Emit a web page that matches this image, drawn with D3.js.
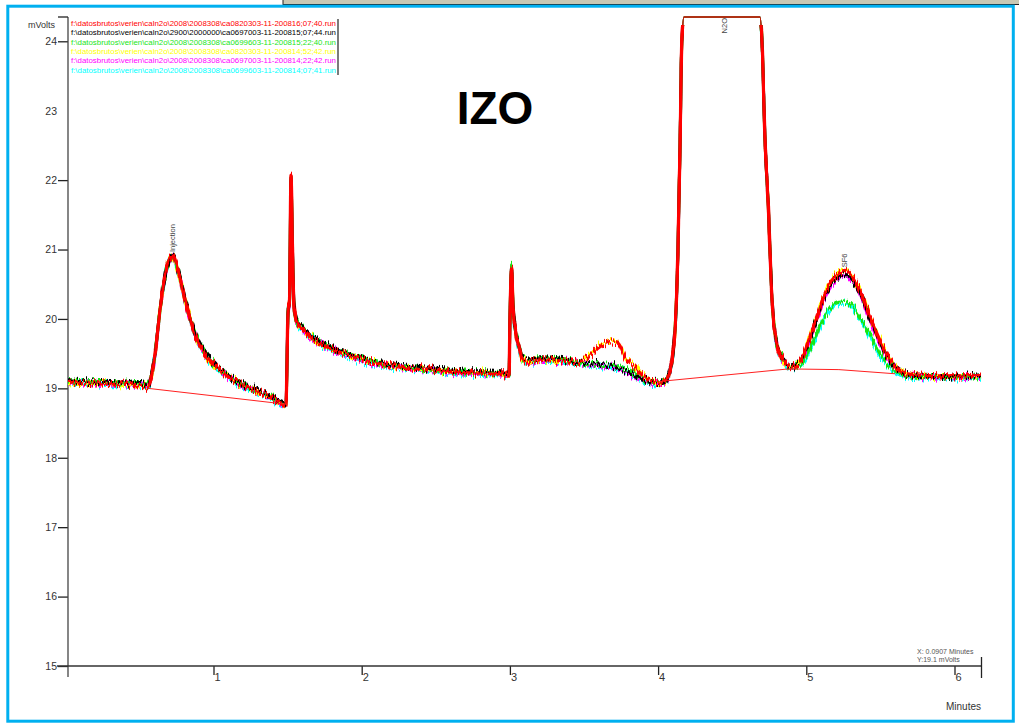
<!DOCTYPE html>
<html>
<head>
<meta charset="utf-8">
<script src="https://cdn.jsdelivr.net/npm/d3@7"></script>
<style>
  body { margin: 0; background: #fff; }
  text { font-family: "Liberation Sans", Arial, sans-serif; }
</style>
</head>
<body>
<svg id="chart" width="1019" height="723"></svg>
<script>
// Retention time grid (minutes) shared by all six runs
const minutes = [
  0.018, 0.100, 0.234, 0.369, 0.504, 0.558, 0.572, 0.605, 0.639, 0.673,
  0.707, 0.720, 0.760, 0.808, 0.875, 0.976, 1.111, 1.246, 1.381, 1.489,
  1.503, 1.513, 1.523, 1.533, 1.543, 1.563, 1.597, 1.651, 1.719, 1.820,
  1.955, 2.124, 2.393, 2.663, 2.967, 2.994, 3.000, 3.012, 3.021, 3.035,
  3.061, 3.088, 3.129, 3.203, 3.338, 3.473, 3.540, 3.608, 3.675, 3.729,
  3.756, 3.777, 3.811, 3.845, 3.878, 3.912, 3.945, 3.979, 4.013, 4.046,
  4.080, 4.114, 4.134, 4.148, 4.160, 4.175, 4.418, 4.687, 4.701, 4.721,
  4.742, 4.769, 4.795, 4.836, 4.890, 4.957, 5.004, 5.048, 5.092, 5.133,
  5.174, 5.220, 5.261, 5.300, 5.362, 5.430, 5.497, 5.564, 5.611, 5.666,
  5.767, 5.902, 6.037, 6.179
];

// Detector signal (mVolts) for each run
const runRed = [
  19.09, 19.08, 19.08, 19.06, 19.05, 19.03, 19.10, 19.48, 20.13, 20.63,
  20.88, 20.92, 20.70, 20.27, 19.77, 19.41, 19.15, 19.00, 18.87, 18.77,
  20.10, 20.27, 22.07, 21.00, 20.20, 19.95, 19.87, 19.75, 19.65, 19.55,
  19.45, 19.35, 19.28, 19.23, 19.21, 19.19, 19.95, 20.75, 20.20, 19.88,
  19.60, 19.41, 19.38, 19.41, 19.41, 19.38, 19.48, 19.60, 19.67, 19.65,
  19.55, 19.44, 19.36, 19.30, 19.22, 19.16, 19.12, 19.10, 19.09, 19.11,
  19.26, 19.84, 21.00, 22.50, 24.00, 28.00, 28.00, 28.00, 24.00, 22.60,
  21.70, 20.27, 19.69, 19.44, 19.30, 19.38, 19.62, 19.88, 20.17, 20.40,
  20.56, 20.66, 20.70, 20.64, 20.41, 20.03, 19.69, 19.41, 19.29, 19.22,
  19.19, 19.18, 19.18, 19.19
];
const runBlack = [
  19.11, 19.10, 19.09, 19.08, 19.07, 19.05, 19.12, 19.49, 20.14, 20.63,
  20.87, 20.93, 20.72, 20.30, 19.80, 19.43, 19.17, 19.02, 18.89, 18.79,
  20.10, 20.27, 22.05, 21.00, 20.22, 19.97, 19.89, 19.77, 19.67, 19.57,
  19.47, 19.37, 19.30, 19.25, 19.22, 19.20, 19.96, 20.74, 20.22, 19.90,
  19.62, 19.43, 19.41, 19.44, 19.42, 19.38, 19.37, 19.35, 19.32, 19.30,
  19.27, 19.25, 19.22, 19.18, 19.15, 19.12, 19.10, 19.09, 19.08, 19.10,
  19.26, 19.84, 21.00, 22.50, 24.00, 28.00, 28.00, 28.00, 24.00, 22.60,
  21.70, 20.29, 19.71, 19.46, 19.31, 19.37, 19.60, 19.86, 20.14, 20.37,
  20.52, 20.61, 20.64, 20.59, 20.38, 20.00, 19.66, 19.39, 19.28, 19.21,
  19.18, 19.17, 19.18, 19.18
];
const runGreen = [
  19.12, 19.10, 19.10, 19.08, 19.07, 19.05, 19.12, 19.49, 20.13, 20.62,
  20.87, 20.91, 20.71, 20.29, 19.79, 19.42, 19.17, 19.01, 18.88, 18.78,
  20.09, 20.26, 22.04, 20.99, 20.21, 19.96, 19.88, 19.76, 19.66, 19.56,
  19.46, 19.36, 19.29, 19.24, 19.21, 19.19, 19.95, 20.76, 20.21, 19.89,
  19.61, 19.42, 19.40, 19.43, 19.41, 19.37, 19.35, 19.33, 19.32, 19.31,
  19.30, 19.28, 19.25, 19.21, 19.16, 19.12, 19.09, 19.08, 19.08, 19.10,
  19.26, 19.84, 21.00, 22.50, 24.00, 28.00, 28.00, 28.00, 24.00, 22.60,
  21.70, 20.28, 19.70, 19.45, 19.31, 19.34, 19.48, 19.68, 19.90, 20.06,
  20.18, 20.24, 20.25, 20.21, 20.03, 19.77, 19.50, 19.31, 19.23, 19.19,
  19.17, 19.17, 19.17, 19.18
];
const runYellow = [
  19.08, 19.07, 19.09, 19.05, 19.06, 19.02, 19.11, 19.47, 20.12, 20.62,
  20.87, 20.90, 20.69, 20.28, 19.78, 19.40, 19.16, 18.99, 18.88, 18.76,
  20.08, 20.25, 22.02, 20.98, 20.18, 19.96, 19.86, 19.76, 19.64, 19.56,
  19.44, 19.36, 19.27, 19.24, 19.20, 19.18, 19.93, 20.72, 20.18, 19.86,
  19.61, 19.42, 19.37, 19.42, 19.40, 19.39, 19.49, 19.62, 19.69, 19.66,
  19.56, 19.45, 19.37, 19.31, 19.23, 19.15, 19.11, 19.09, 19.08, 19.10,
  19.25, 19.83, 21.00, 22.50, 24.00, 28.00, 28.00, 28.00, 24.00, 22.60,
  21.70, 20.28, 19.70, 19.45, 19.31, 19.39, 19.63, 19.89, 20.18, 20.41,
  20.57, 20.67, 20.72, 20.65, 20.42, 20.04, 19.70, 19.42, 19.30, 19.21,
  19.18, 19.17, 19.17, 19.18
];
const runMagenta = [
  19.08, 19.09, 19.07, 19.07, 19.05, 19.04, 19.10, 19.47, 20.12, 20.61,
  20.86, 20.91, 20.70, 20.27, 19.77, 19.41, 19.15, 19.00, 18.87, 18.77,
  20.08, 20.25, 22.00, 20.97, 20.19, 19.94, 19.86, 19.74, 19.64, 19.54,
  19.44, 19.34, 19.27, 19.22, 19.20, 19.18, 19.92, 20.70, 20.17, 19.87,
  19.59, 19.40, 19.37, 19.40, 19.40, 19.36, 19.35, 19.33, 19.31, 19.29,
  19.26, 19.24, 19.21, 19.16, 19.13, 19.10, 19.08, 19.07, 19.07, 19.09,
  19.25, 19.83, 21.00, 22.50, 24.00, 28.00, 28.00, 28.00, 24.00, 22.60,
  21.70, 20.27, 19.69, 19.44, 19.30, 19.36, 19.59, 19.85, 20.12, 20.35,
  20.50, 20.59, 20.62, 20.57, 20.36, 19.98, 19.64, 19.37, 19.27, 19.20,
  19.17, 19.16, 19.17, 19.17
];
const runCyan = [
  19.07, 19.08, 19.06, 19.05, 19.04, 19.02, 19.09, 19.46, 20.11, 20.60,
  20.85, 20.89, 20.68, 20.26, 19.76, 19.39, 19.14, 18.98, 18.86, 18.75,
  20.07, 20.24, 21.98, 20.96, 20.17, 19.93, 19.85, 19.73, 19.63, 19.53,
  19.43, 19.33, 19.26, 19.21, 19.19, 19.17, 19.91, 20.70, 20.16, 19.85,
  19.58, 19.39, 19.37, 19.39, 19.38, 19.35, 19.33, 19.31, 19.30, 19.28,
  19.27, 19.25, 19.22, 19.18, 19.13, 19.09, 19.06, 19.05, 19.06, 19.08,
  19.24, 19.82, 21.00, 22.50, 24.00, 28.00, 28.00, 28.00, 24.00, 22.60,
  21.70, 20.26, 19.68, 19.43, 19.29, 19.32, 19.46, 19.66, 19.88, 20.04,
  20.16, 20.22, 20.23, 20.19, 20.01, 19.75, 19.48, 19.29, 19.21, 19.17,
  19.15, 19.15, 19.15, 19.16
];

// Data file of each run, in legend order
const runFiles = [
  "f:\\datosbrutos\\verien\\caln2o\\2008\\2008308\\ca0820303-11-200816;07;40.run",
  "f:\\datosbrutos\\verien\\caln2o\\2900\\2000000\\ca0697003-11-200815;07;44.run",
  "f:\\datosbrutos\\verien\\caln2o\\2008\\2008308\\ca0699603-11-200815;22;40.run",
  "f:\\datosbrutos\\verien\\caln2o\\2008\\2008308\\ca0820303-11-200814;52;42.run",
  "f:\\datosbrutos\\verien\\caln2o\\2008\\2008308\\ca0697003-11-200814;22;42.run",
  "f:\\datosbrutos\\verien\\caln2o\\2008\\2008308\\ca0699603-11-200814;07;41.run"
];
const runSignals = [runRed, runBlack, runGreen, runYellow, runMagenta, runCyan];
const runColors = ["#ff0000", "#000000", "#19e619", "#ffff00", "#ff00ff", "#00ffff"];

// Integration baselines: [minutes, mVolts] end points
const baselineInjection = [[0.558, 19.00], [1.496, 18.77]];
const baselineN2O = [[4.013, 19.10], [4.880, 19.28]];
const baselineSF6 = [[4.880, 19.28], [5.220, 19.27], [5.600, 19.21]];

// Named peaks
const peakNames = ["Injection", "N2O", "SF6"];
const peakMinutes = [0.720, 4.445, 5.255];
const peakHeights = [20.92, 24.35, 20.70];

const yTicks = [15, 16, 17, 18, 19, 20, 21, 22, 23, 24];
const xTicks = [1, 2, 3, 4, 5, 6];

const svg = d3.select("#chart");
const x = d3.scaleLinear().domain([0, 6]).range([65.3, 954.5]);
const y = d3.scaleLinear().domain([15, 24.35]).range([666, 17]).clamp(true);

// Window frame
svg.append("rect").attr("x", 283).attr("y", -1).attr("width", 740).attr("height", 5.5)
  .attr("fill", "#c8c8b4").attr("stroke", "#222").attr("stroke-width", 1);
svg.append("rect").attr("x", 7.8).attr("y", 6.2).attr("width", 1005.5).attr("height", 715)
  .attr("fill", "none").attr("stroke", "#00b0f0").attr("stroke-width", 3);

// Detector noise texture for the traces, plus clip regions that keep
// the off-scale top of the N2O peak as a clean flat line
const defs = svg.append("defs");
runColors.forEach((c, i) => {
  const f = defs.append("filter").attr("id", "noise" + i)
    .attr("x", "-2%").attr("y", "-5%").attr("width", "104%").attr("height", "110%");
  f.append("feTurbulence").attr("type", "fractalNoise")
    .attr("baseFrequency", "0.9 0.04").attr("numOctaves", 2).attr("seed", 3 + i * 7).attr("result", "n");
  f.append("feColorMatrix").attr("in", "n").attr("type", "matrix")
    .attr("values", "0 0 0 0 0.5  0 1 0 0 0  0 0 0 0 0  0 0 0 0 1").attr("result", "m");
  f.append("feDisplacementMap").attr("in", "SourceGraphic").attr("in2", "m")
    .attr("scale", 14).attr("xChannelSelector", "R").attr("yChannelSelector", "G");
});
defs.append("clipPath").attr("id", "clipLower")
  .append("rect").attr("x", 0).attr("y", 25).attr("width", 1019).attr("height", 700);
defs.append("clipPath").attr("id", "clipUpper")
  .append("rect").attr("x", 0).attr("y", 0).attr("width", 1019).attr("height", 25);

// Axes
const yAxis = d3.axisLeft(y).tickValues(yTicks).tickSize(10).tickPadding(1).tickFormat(d3.format("d"));
const gy = svg.append("g").attr("transform", "translate(68,0)").call(yAxis);
gy.select(".domain").remove();
gy.selectAll(".tick line").attr("stroke", "#222").attr("stroke-width", 1.3)
  .filter(d => d === 23).remove();
gy.selectAll(".tick text").attr("font-size", "10.5px").attr("fill", "#333")
  .style("font-family", "'Liberation Sans', Arial, sans-serif");

const xAxis = d3.axisBottom(x).tickValues(xTicks).tickSize(9).tickFormat(d3.format("d"));
const gx = svg.append("g").attr("transform", "translate(0,666)").call(xAxis);
gx.select(".domain").remove();
gx.selectAll(".tick line").attr("stroke", "#222").attr("stroke-width", 1.3);
gx.selectAll(".tick text").attr("text-anchor", "start").attr("x", 0.5).attr("y", 7)
  .attr("font-size", "11px").attr("fill", "#333")
  .style("font-family", "'Liberation Sans', Arial, sans-serif");

svg.append("line").attr("x1", 68).attr("x2", 68).attr("y1", 17).attr("y2", 677)
  .attr("stroke", "#444").attr("stroke-width", 1.3);
svg.append("line").attr("x1", 58).attr("x2", 68).attr("y1", 17).attr("y2", 17)
  .attr("stroke", "#222").attr("stroke-width", 1.3);
svg.append("line").attr("x1", 57).attr("x2", 981.5).attr("y1", 666).attr("y2", 666)
  .attr("stroke", "#333").attr("stroke-width", 1.3);
svg.append("line").attr("x1", 981.5).attr("x2", 981.5).attr("y1", 657).attr("y2", 678)
  .attr("stroke", "#222").attr("stroke-width", 1.3);

svg.append("text").attr("x", 55).attr("y", 28).attr("text-anchor", "end")
  .attr("font-size", "9px").attr("fill", "#333").text("mVolts");
svg.append("text").attr("x", 981).attr("y", 710).attr("text-anchor", "end")
  .attr("font-size", "10px").attr("fill", "#333").text("Minutes");
svg.append("text").attr("x", 917).attr("y", 654)
  .attr("font-size", "7px").attr("fill", "#555").text("X: 0.0907 Minutes");
svg.append("text").attr("x", 917).attr("y", 662)
  .attr("font-size", "7px").attr("fill", "#555").text("Y:19.1 mVolts");

// Traces, drawn so the first run ends up on top
const line = d3.line()
  .x((d, i) => x(minutes[i]))
  .y(d => y(d))
  .curve(d3.curveMonotoneX);
const order = [5, 4, 3, 2, 1, 0];
const strokeW = i => i === 0 ? 3.3 : 2.9;

svg.append("g").attr("clip-path", "url(#clipLower)")
  .selectAll("path").data(order).join("path")
  .attr("d", i => line(runSignals[i]))
  .attr("fill", "none")
  .attr("stroke", i => runColors[i])
  .attr("stroke-width", strokeW)
  .attr("stroke-linejoin", "round")
  .attr("filter", i => `url(#noise${i})`);

svg.append("g").attr("clip-path", "url(#clipUpper)")
  .selectAll("path").data(order).join("path")
  .attr("d", i => line(runSignals[i]))
  .attr("fill", "none")
  .attr("stroke", i => runColors[i])
  .attr("stroke-width", 1.6)
  .attr("stroke-opacity", i => i === 0 ? 0.75 : 0.6);

// Integration baselines
const baseLine = d3.line().x(d => x(d[0])).y(d => y(d[1]));
svg.append("g").selectAll("path").data([baselineInjection, baselineN2O, baselineSF6]).join("path")
  .attr("d", baseLine).attr("fill", "none").attr("stroke", "#ff2020").attr("stroke-width", 1);

// Peak names, written upward
peakNames.forEach((name, i) => {
  const px = x(peakMinutes[i]) + 2.5;
  const top = y(peakHeights[i]);
  const clipped = peakHeights[i] >= y.domain()[1];
  const py = clipped ? top + 1 : top - 3;
  svg.append("text")
    .attr("transform", `translate(${px},${py}) rotate(-90)`)
    .attr("text-anchor", clipped ? "end" : "start")
    .attr("font-size", "7.5px").attr("fill", "#444").text(name);
});

// Legend of run files
const lg = svg.append("g");
lg.selectAll("text").data(runFiles).join("text")
  .attr("x", 71).attr("y", (d, i) => 26 + i * 9.35)
  .attr("font-size", "7.5px")
  .attr("textLength", 265).attr("lengthAdjust", "spacingAndGlyphs")
  .attr("fill", (d, i) => runColors[i]).text(d => d);
lg.append("line").attr("x1", 338).attr("x2", 338).attr("y1", 19).attr("y2", 75)
  .attr("stroke", "#222").attr("stroke-width", 1.2);

// Title
svg.append("text").attr("x", 495).attr("y", 124).attr("text-anchor", "middle")
  .attr("font-size", "46px").attr("font-weight", "bold").attr("fill", "#000").text("IZO");
</script>
</body>
</html>
